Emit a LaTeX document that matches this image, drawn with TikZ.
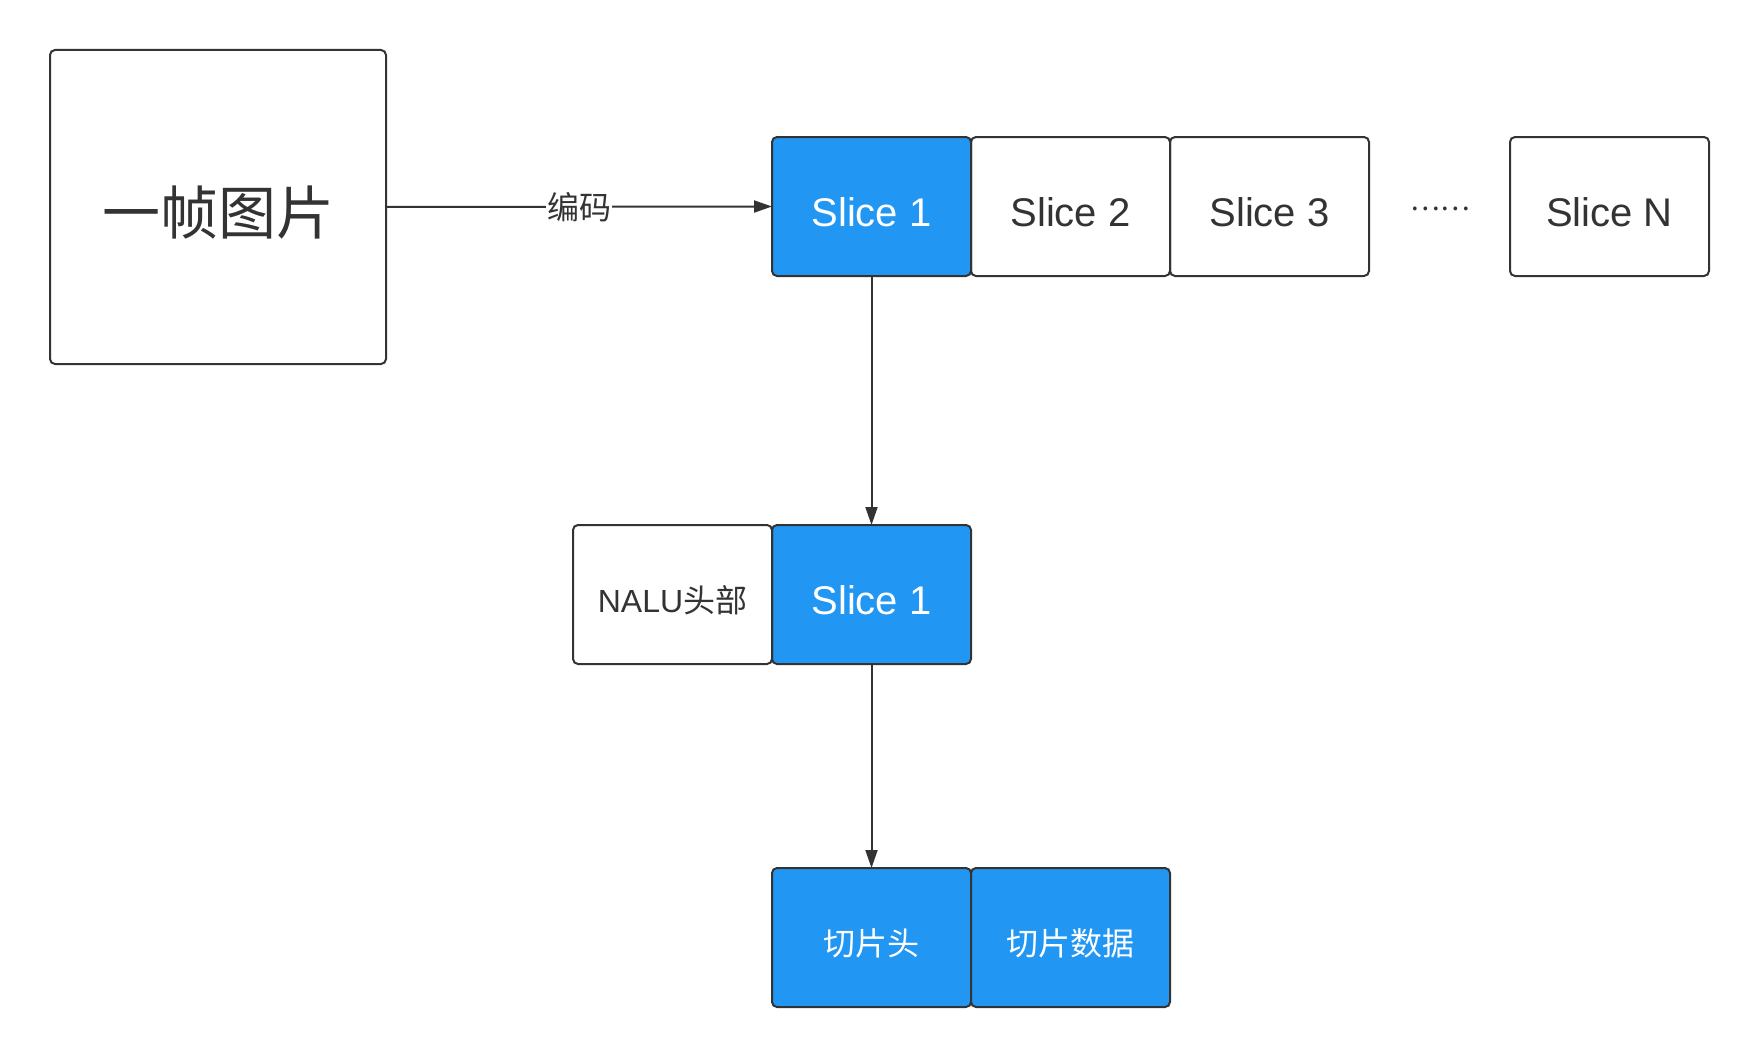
\documentclass[tikz,border=0pt]{standalone}
\usepackage{fontspec}
\setmainfont{Liberation Sans}
\newfontfamily\cjk{Noto Sans CJK SC}
\usepackage{tikz}
\usetikzlibrary{positioning,arrows.meta}
\definecolor{sliceblue}{HTML}{2196F3}
\definecolor{ink}{HTML}{333333}

\tikzset{
    box/.style={draw=ink, line width=2pt, rounded corners=5pt, inner sep=0pt, outer sep=0pt,
        minimum width=199pt, minimum height=139pt, text=ink, text height=40pt, text depth=0pt,
        font=\fontsize{40}{44}\selectfont},
    bluebox/.style={box, fill=sliceblue, text=white},
    small/.style={font=\fontsize{32}{36}\selectfont\cjk},
    smallbox/.style={small, text height=35pt},
    link/.style={draw=ink, line width=2pt, -{Triangle[length=18pt,width=12pt]}}
}

\begin{document}
\begin{tikzpicture}[x=1pt, y=-1pt]
    \useasboundingbox (0,0) rectangle (1760,1057);

    % Frame
    \node[box, minimum width=336pt, minimum height=314pt, text height=54pt,
        font=\fontsize{58}{62}\selectfont\cjk] (frame) at (218,207) {一帧图片};

    % Slices of the frame
    \node[bluebox] (slice1) at (871.5,206.5) {Slice 1};
    \node[box, right=0pt of slice1] (slice2) {Slice 2};
    \node[box, right=0pt of slice2] (slice3) {Slice 3};
    \node[text=ink, font=\fontsize{28}{30}\selectfont\cjk] (dots) at (1440,209) {……};
    \node[box] (sliceN) at (1609.5,206.5) {Slice N};

    % NALU
    \node[bluebox] (nslice) at (871.5,594.5) {Slice 1};
    \node[box, smallbox, left=0pt of nslice, font=\fontsize{32}{36}\selectfont] (nalu) {NALU{\cjk 头部}};

    % Slice parts
    \node[bluebox, smallbox] (shead) at (871.5,937.5) {切片头};
    \node[bluebox, smallbox, right=0pt of shead] (sdata) {切片数据};

    % Connectors
    \draw[link] (frame.east) -- node[fill=white, inner sep=1pt, text=ink, small] (enc) {编码} (slice1.west);
    \draw[link] (slice1.south) -- (nslice.north);
    \draw[link] (nslice.south) -- (shead.north);
\end{tikzpicture}
\end{document}
